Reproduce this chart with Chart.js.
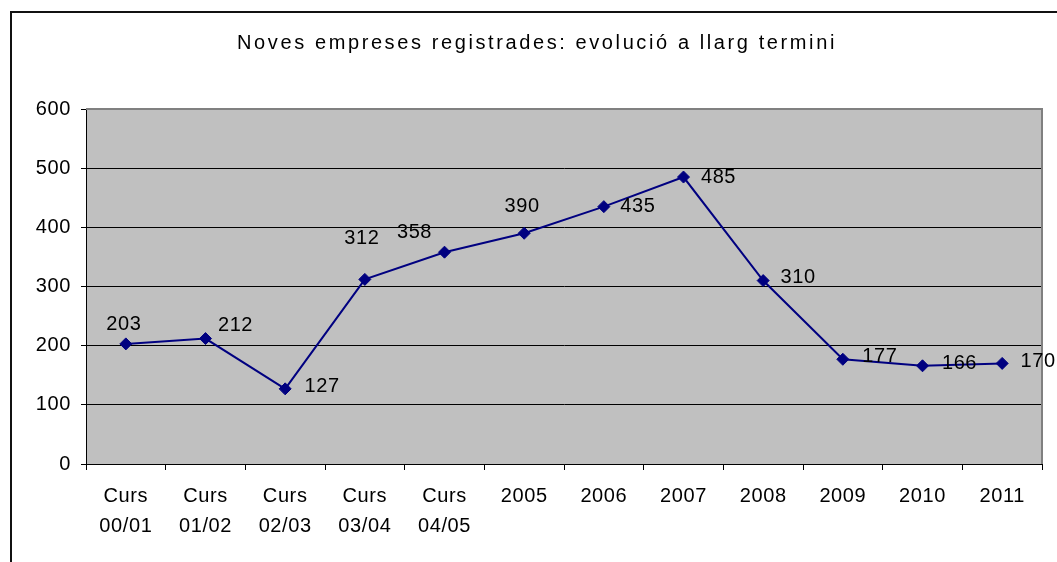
<!DOCTYPE html>
<html>
<head>
<meta charset="utf-8">
<script src="https://cdn.jsdelivr.net/npm/chart.js@4.4.1/dist/chart.umd.min.js"></script>
<style>
    html, body { margin: 0; padding: 0; background: #ffffff; overflow: hidden; }
    #wrap { position: relative; width: 1057px; height: 562px; }
    #frame { position: absolute; left: 10px; top: 11px; width: 1100px; height: 600px; border: 2px solid #111; box-sizing: border-box; }
    #graphCanvas { position: absolute; left: 0; top: 0; }
</style>
</head>
<body>
<div id="wrap">
    <div id="frame"></div>
    <canvas id="graphCanvas" width="1057" height="562"></canvas>
</div>
<script>
var titre = 'Noves empreses registrades: evolució a llarg termini';
var periodes = [['Curs', '00/01'], ['Curs', '01/02'], ['Curs', '02/03'], ['Curs', '03/04'], ['Curs', '04/05'],
    '2005', '2006', '2007', '2008', '2009', '2010', '2011'];
var empreses = [203, 212, 127, 312, 358, 390, 435, 485, 310, 177, 166, 170];
var yTicks = [0, 100, 200, 300, 400, 500, 600];

// where each value label sits relative to its point (style only)
var decalages = [[-2, -19], [30, -13], [37, -2], [-3, -41], [-30, -20], [-2, -27],
    [34, 0], [35, 0], [35, -3], [37, -3], [37, -2], [36, -2]];

var police = 'Arial, "Liberation Sans", sans-serif';

var fondGris = {
    id: 'fondGris',
    beforeDraw: function (chart) {
        var ctx = chart.ctx, a = chart.chartArea;
        ctx.save();
        ctx.fillStyle = '#c0c0c0';
        ctx.fillRect(a.left, a.top, a.right - a.left, a.bottom - a.top);
        ctx.restore();
        ctx.letterSpacing = '0.6px';
    },
    beforeDatasetsDraw: function (chart) {
        var ctx = chart.ctx, a = chart.chartArea;
        ctx.save();
        ctx.strokeStyle = '#808080';
        ctx.lineWidth = 2;
        ctx.beginPath();
        ctx.moveTo(a.left, a.top);
        ctx.lineTo(a.right, a.top);
        ctx.lineTo(a.right, a.bottom);
        ctx.stroke();
        ctx.restore();
    },
    afterDatasetsDraw: function (chart) {
        var ctx = chart.ctx;
        var meta = chart.getDatasetMeta(0);
        ctx.save();
        ctx.font = '20px ' + police;
        ctx.letterSpacing = '0.6px';
        ctx.fillStyle = '#000000';
        ctx.textAlign = 'center';
        ctx.textBaseline = 'middle';
        meta.data.forEach(function (pt, i) {
            var d = decalages[i];
            ctx.fillText(String(empreses[i]), pt.x + d[0], pt.y + d[1]);
        });
        ctx.restore();
    },
    afterDraw: function (chart) {
        var ctx = chart.ctx;
        ctx.save();
        ctx.font = '20px ' + police;
        ctx.letterSpacing = '2.6px';
        ctx.fillStyle = '#000000';
        ctx.textAlign = 'center';
        ctx.textBaseline = 'middle';
        ctx.fillText(titre, 537, 43);
        ctx.restore();
    }
};

var chartdata = {
    labels: periodes,
    datasets: [{
        label: 'Noves empreses',
        data: empreses,
        borderColor: '#000080',
        backgroundColor: '#000080',
        borderWidth: 2,
        pointStyle: 'rectRot',
        pointRadius: 6,
        pointHoverRadius: 6,
        pointBorderWidth: 1,
        tension: 0
    }]
};

var graphTarget = document.getElementById('graphCanvas');

var lineGraph = new Chart(graphTarget, {
    type: 'line',
    data: chartdata,
    plugins: [fondGris],
    options: {
        responsive: false,
        animation: false,
        layout: {
            padding: { left: 10, top: 109, right: 15, bottom: 0 }
        },
        plugins: {
            legend: { display: false },
            title: { display: false },
            tooltip: { enabled: false }
        },
        scales: {
            x: {
                offset: true,
                grid: {
                    offset: true,
                    drawOnChartArea: false,
                    drawTicks: true,
                    tickLength: 6,
                    color: '#000000'
                },
                border: { color: '#000000', width: 1 },
                ticks: {
                    color: '#000000',
                    font: { family: police, size: 20, lineHeight: 1.5 },
                    padding: 11,
                    maxRotation: 0,
                    autoSkip: false
                },
                afterFit: function (scale) { scale.height = 98; }
            },
            y: {
                min: 0,
                max: 600,
                afterBuildTicks: function (scale) {
                    scale.ticks = yTicks.map(function (v) { return { value: v }; });
                },
                grid: {
                    color: '#000000',
                    tickLength: 5,
                    drawTicks: true
                },
                border: { color: '#000000', width: 1 },
                ticks: {
                    color: '#000000',
                    font: { family: police, size: 20 },
                    padding: 10
                },
                afterFit: function (scale) { scale.width = 76; }
            }
        }
    }
});
</script>
</body>
</html>
